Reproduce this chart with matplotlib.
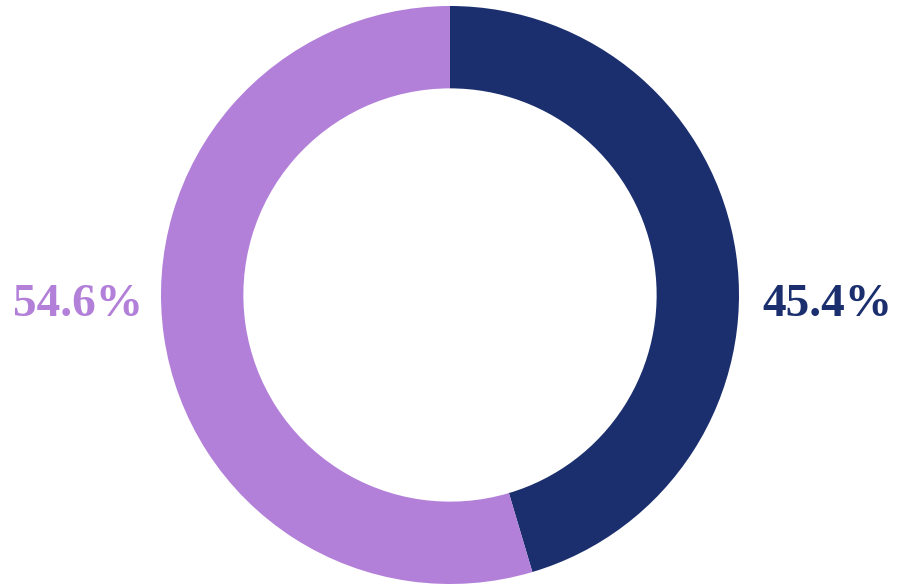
import matplotlib
matplotlib.use("Agg")
from matplotlib import pyplot as plt

labels = ['45.4%', '54.6%']
values = [45.4, 54.6]
colors = ['#1b2f6e', '#b27fd9']

W, H = 898, 586
cx, cy, r = 450, H - 295, 289

fig = plt.figure(figsize=(W / 100, H / 100), dpi=100)
ax = fig.add_axes([0, 0, 1, 1])
ax.pie(values, colors=colors, startangle=90, counterclock=False,
       radius=r, center=(cx, cy),
       wedgeprops=dict(width=r * 0.285, linewidth=0))
ax.set_xlim(0, W)
ax.set_ylim(0, H)
ax.set_aspect('equal')
ax.axis('off')

font = dict(family='Liberation Serif', weight='bold', size=34)
ax.text(762, H - 305, labels[0], color=colors[0], ha='left', va='center', **font)
ax.text(143, H - 305, labels[1], color=colors[1], ha='right', va='center', **font)

fig.savefig('out.png', dpi=100)
